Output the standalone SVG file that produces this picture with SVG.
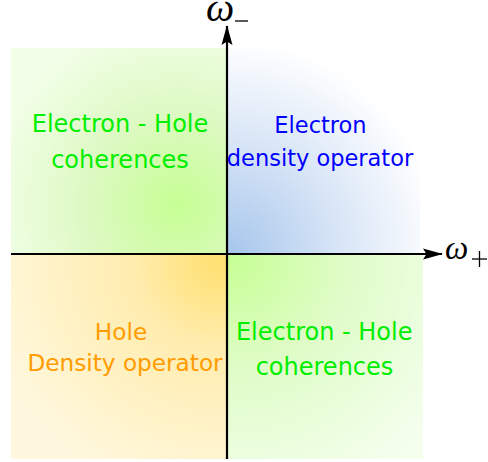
<svg xmlns="http://www.w3.org/2000/svg" width="488" height="462" viewBox="0 0 488 462">
<defs>
  <radialGradient id="gTL" gradientUnits="userSpaceOnUse" cx="178" cy="205" r="190">
    <stop offset="0" stop-color="#c6ff94"/>
    <stop offset="0.5" stop-color="#def9c4"/>
    <stop offset="1" stop-color="#f2ffe8"/>
  </radialGradient>
  <radialGradient id="gTR" gradientUnits="userSpaceOnUse" cx="228" cy="254" r="215">
    <stop offset="0" stop-color="#a6c6ec"/>
    <stop offset="0.5" stop-color="#d6e4f6"/>
    <stop offset="1" stop-color="#ffffff"/>
  </radialGradient>
  <radialGradient id="gBL" gradientUnits="userSpaceOnUse" cx="218" cy="262" r="240">
    <stop offset="0" stop-color="#ffe070"/>
    <stop offset="0.35" stop-color="#ffecae"/>
    <stop offset="1" stop-color="#fff8de"/>
  </radialGradient>
  <radialGradient id="gBR" gradientUnits="userSpaceOnUse" cx="230" cy="256" r="260">
    <stop offset="0" stop-color="#c6ff94"/>
    <stop offset="0.45" stop-color="#e0fcc8"/>
    <stop offset="1" stop-color="#f4ffee"/>
  </radialGradient>
  <marker id="arr" markerWidth="22" markerHeight="14" refX="19" refY="7" orient="auto" markerUnits="userSpaceOnUse">
    <path d="M0,1.5 L20,7 L0,12.5 L3.5,7 Z" fill="#000"/>
  </marker>
  <style>
    .lbl { font-family: "DejaVu Sans", sans-serif; text-anchor: middle; }
    .math { font-family: "Liberation Serif", serif; font-style: italic; }
    .axis { stroke: #000; stroke-width: 2.2; fill: none; }
    .sym { stroke: #000; stroke-width: 1.3; }
  </style>
</defs>
<g id="quadrant-tl">
  <rect x="11" y="48" width="216" height="206" fill="url(#gTL)"/>
  <text class="lbl" font-size="24" fill="#00ee00"><tspan x="120" y="132">Electron - Hole</tspan><tspan x="120" y="167.5">coherences</tspan></text>
</g>
<g id="quadrant-tr">
  <rect x="227" y="48" width="193" height="206" fill="url(#gTR)"/>
  <text class="lbl" font-size="22.5" fill="#0000ff"><tspan x="320.5" y="133">Electron</tspan><tspan x="320" y="166">density operator</tspan></text>
</g>
<g id="quadrant-bl">
  <rect x="11" y="254" width="216" height="205" fill="url(#gBL)"/>
  <text class="lbl" font-size="23.2" fill="#ff9c00"><tspan x="121" y="339.5">Hole</tspan><tspan x="125" y="371">Density operator</tspan></text>
</g>
<g id="quadrant-br">
  <rect x="227" y="254" width="196" height="205" fill="url(#gBR)"/>
  <text class="lbl" font-size="24" fill="#00ee00"><tspan x="324.2" y="340">Electron - Hole</tspan><tspan x="324.5" y="375">coherences</tspan></text>
</g>
<g id="connectors">
  <line class="axis" x1="11" y1="254" x2="442" y2="254" marker-end="url(#arr)"/>
  <line class="axis" x1="227" y1="459" x2="227" y2="26" marker-end="url(#arr)"/>
</g>
<g id="label-wminus">
  <text class="math" x="206" y="21" font-size="40">ω</text>
  <line class="sym" x1="235" y1="21" x2="248" y2="21"/>
</g>
<g id="label-wplus">
  <text class="math" x="445" y="259" font-size="33">ω</text>
  <line class="sym" x1="472" y1="259" x2="487" y2="259"/>
  <line class="sym" x1="479.5" y1="251" x2="479.5" y2="267"/>
</g>
</svg>
